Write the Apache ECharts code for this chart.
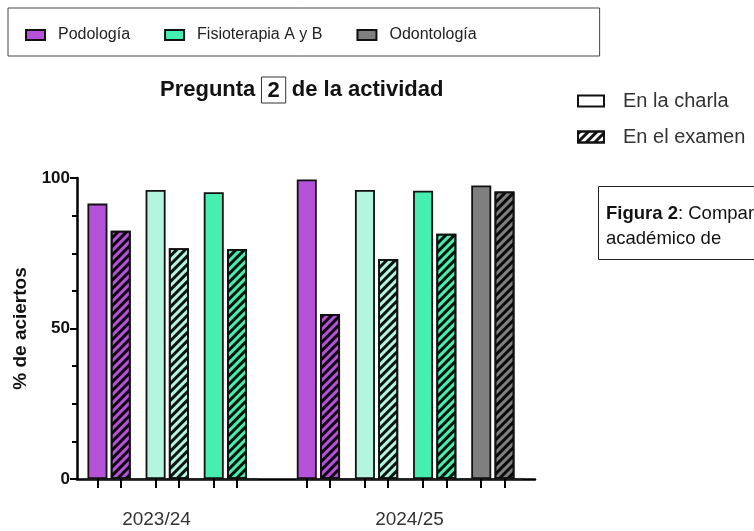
<!DOCTYPE html>
<html>
<head>
<meta charset="utf-8">
<script src="https://cdn.jsdelivr.net/npm/echarts@6/dist/echarts.min.js"></script>
<style>html,body{margin:0;padding:0;background:#fff}#c{width:754px;height:531px}</style>
</head>
<body>
<div id="c"></div>
<script>
// ---- data ----
const years = ['2023/24', '2024/25'];
const programs2324 = ['Podología', 'Fisioterapia A', 'Fisioterapia B'];
const programs2425 = ['Podología', 'Fisioterapia A', 'Fisioterapia B', 'Odontología'];
const charla2324 = [91.5, 96, 95.3];
const examen2324 = [82.5, 76.7, 76.4];
const charla2425 = [99.5, 96, 95.8, 97.5];
const examen2425 = [54.8, 73.1, 81.5, 95.5];
const legendPrograms = ['Podología', 'Fisioterapia A y B', 'Odontología'];
const legendMoments = ['En la charla', 'En el examen'];
const yTicks = [0, 50, 100];

// ---- styles ----
const FONT = 'Liberation Sans, Arial, sans-serif';
const colors = {
  'Podología': '#B552D8',
  'Fisioterapia A': '#B3F5DE',
  'Fisioterapia B': '#46EEAF',
  'Odontología': '#7F7F7F'
};
const legendColors = ['#B552D8', '#46EEAF', '#7F7F7F'];
const hatch = { symbol: 'rect', symbolSize: 1, color: 'rgba(0,0,0,0.92)', dashArrayX: [1, 0], dashArrayY: [2.6, 2.8], rotation: -Math.PI / 4 };
const border = { borderColor: '#111', borderWidth: 1.8 };

// ---- build slots (category positions) ----
const slots = [];
const values = [];
const isBar = [];
function spacer(n) { for (let i = 0; i < n; i++) { slots.push('s' + slots.length); values.push(null); isBar.push(false); } }
function addGroup(progs, ch, ex, yr) {
  progs.forEach((p, i) => {
    if (i > 0) spacer(2);
    slots.push(yr + ' ' + p + ' charla');
    values.push({ value: ch[i], itemStyle: Object.assign({ color: colors[p] }, border) });
    isBar.push(true);
    spacer(1);
    slots.push(yr + ' ' + p + ' examen');
    values.push({ value: ex[i], itemStyle: Object.assign({ color: colors[p], decal: hatch }, border) });
    isBar.push(true);
  });
}
spacer(1);
addGroup(programs2324, charla2324, examen2324, years[0]);
spacer(5);
addGroup(programs2425, charla2425, examen2425, years[1]);
spacer(2);

const SLOT = 11.63;
const TOP = 178, BOTTOM = 52;

const chart = echarts.init(document.getElementById('c'), null, { renderer: 'canvas' });
const dummy = (name, itemStyle) => ({ name, type: 'bar', xAxisIndex: 1, yAxisIndex: 1, data: [], barWidth: 20, barGap: '-100%', itemStyle });

chart.setOption({
  animation: false,
  textStyle: { fontFamily: FONT },
  title: [
    {
      text: '{a|Pregunta }{b|2}{a| de la actividad}',
      left: 155, top: 72,
      textStyle: {
        rich: {
          a: { fontSize: 22, fontWeight: 'bold', color: '#111', fontFamily: FONT },
          b: { fontSize: 22, fontWeight: 'bold', color: '#111', fontFamily: FONT, borderColor: '#333', borderWidth: 1, padding: [3, 6, 1, 6] }
        }
      }
    },
    {
      text: '{bb|Figura 2}: Comparación del\nacadémico de',
      left: 598, top: 186,
      borderColor: '#222', borderWidth: 1,
      padding: [15, 10, 9, 8],
      textStyle: {
        fontSize: 18.5, fontWeight: 'normal', color: '#111', lineHeight: 25, fontFamily: FONT,
        rich: { bb: { fontSize: 18.5, fontWeight: 'bold', color: '#111', lineHeight: 25, fontFamily: FONT } }
      }
    }
  ],
  legend: [
    {
      data: legendPrograms,
      left: 8, top: 8,
      padding: [19, 123, 13, 17],
      borderColor: '#444', borderWidth: 1,
      itemWidth: 19, itemHeight: 10, itemGap: 34,
      icon: 'rect',
      selectedMode: false,
      textStyle: { fontSize: 16, color: '#222', fontFamily: FONT, padding: [0, 0, 0, 8] }
    },
    {
      data: legendMoments,
      left: 572, top: 86,
      orient: 'vertical',
      itemWidth: 26, itemHeight: 11, itemGap: 16,
      icon: 'rect',
      selectedMode: false,
      textStyle: { fontSize: 20, color: '#333', fontFamily: FONT, padding: [0, 0, 0, 14] }
    }
  ],
  grid: [
    { left: 77, width: 458, top: TOP, bottom: BOTTOM },
    { left: 80, width: SLOT * slots.length, top: TOP, bottom: BOTTOM },
    { left: 84, width: 173, top: TOP, bottom: BOTTOM },
    { left: 297, width: 225, top: TOP, bottom: BOTTOM }
  ],
  xAxis: [
    { gridIndex: 0, type: 'value', min: 0, max: 1, axisLine: { show: true, onZero: false, lineStyle: { color: '#000', width: 2.5 } }, axisTick: { show: false }, axisLabel: { show: false }, splitLine: { show: false } },
    { gridIndex: 1, type: 'category', data: slots, axisLine: { show: false }, axisLabel: { show: false },
      axisTick: { show: true, alignWithLabel: true, length: 9, interval: (i) => isBar[i], lineStyle: { color: '#000', width: 2 } } },
    { gridIndex: 2, type: 'category', data: [years[0]], offset: 22, axisLine: { lineStyle: { color: '#222', width: 1.5 } },
      axisTick: { inside: true, length: 11, interval: 0, lineStyle: { color: '#222', width: 1.5 } },
      axisLabel: { fontSize: 19, color: '#333', margin: 9, fontFamily: FONT, padding: [0, 28, 0, 0] } },
    { gridIndex: 3, type: 'category', data: [years[1]], offset: 22, axisLine: { lineStyle: { color: '#222', width: 1.5 } },
      axisTick: { inside: true, length: 11, interval: 0, lineStyle: { color: '#222', width: 1.5 } },
      axisLabel: { fontSize: 19, color: '#333', margin: 9, fontFamily: FONT } }
  ],
  yAxis: [
    { gridIndex: 0, type: 'value', min: yTicks[0], max: yTicks[2], interval: yTicks[1] - yTicks[0],
      name: '% de aciertos', nameLocation: 'middle', nameGap: 47,
      nameTextStyle: { fontSize: 19, fontWeight: 'bold', color: '#111', fontFamily: FONT },
      axisLine: { show: true, lineStyle: { color: '#000', width: 2.5 } },
      axisTick: { show: true, length: 7, lineStyle: { color: '#000', width: 2 } },
      minorTick: { show: true, splitNumber: 4, length: 5, lineStyle: { color: '#000', width: 2 } },
      axisLabel: { fontSize: 17, fontWeight: 'bold', color: '#111', margin: 7, fontFamily: FONT },
      splitLine: { show: false } },
    { gridIndex: 1, type: 'value', min: 0, max: 100, show: false },
    { gridIndex: 2, type: 'value', min: 0, max: 100, show: false },
    { gridIndex: 3, type: 'value', min: 0, max: 100, show: false }
  ],
  series: [
    { name: 'Porcentaje de aciertos', type: 'bar', xAxisIndex: 1, yAxisIndex: 1, data: values, barWidth: 20, barGap: '-100%' },
    dummy(legendPrograms[0], Object.assign({ color: legendColors[0] }, border)),
    dummy(legendPrograms[1], Object.assign({ color: legendColors[1] }, border)),
    dummy(legendPrograms[2], Object.assign({ color: legendColors[2] }, border)),
    dummy(legendMoments[0], Object.assign({ color: '#fff' }, border)),
    dummy(legendMoments[1], Object.assign({ color: '#fff', decal: hatch }, border))
  ]
});
</script>
</body>
</html>
